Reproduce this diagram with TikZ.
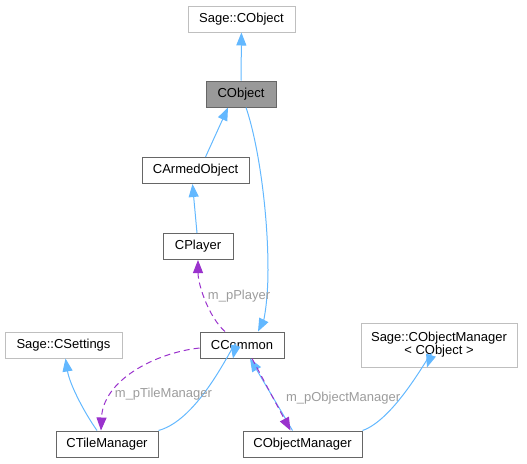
\documentclass[tikz,border=0pt]{standalone}
\usepackage{fontspec}
\setmainfont{Liberation Sans}
\usepackage{xcolor}
\usetikzlibrary{arrows.meta,positioning,calc}

\definecolor{inherit}{HTML}{63B8FF}
\definecolor{usage}{HTML}{9A32CD}
\definecolor{edgelabel}{HTML}{9C9C9C}

\begin{document}
\begin{tikzpicture}[
    x=1pt, y=-1pt,
    cls/.style={draw=black!60, line width=1pt, rectangle, minimum height=26pt,
        inner xsep=6pt, font=\fontsize{13}{15}\selectfont},
    ext/.style={cls, draw=black!25},
    self/.style={cls, fill=black!40},
    isa/.style={draw=inherit, line width=1pt, -{Triangle[length=13pt,width=10pt]}},
    uses/.style={draw=usage, line width=1pt, dash pattern=on 6pt off 4pt,
        -{Triangle[length=13pt,width=10pt]}},
    lbl/.style={text=edgelabel, font=\fontsize{13}{15}\selectfont}
]
    \useasboundingbox (0,0) rectangle (527,463);

    % classes
    \node[ext, minimum width=107pt] (sageobj) at (241.5,19) {Sage::CObject};
    \node[self, minimum width=70pt] (cobj) at (241,94) {CObject};
    \node[cls, minimum width=107pt] (armed) at (195.5,170.5) {CArmedObject};
    \node[cls, minimum width=70pt] (player) at (198,246.5) {CPlayer};
    \node[cls, minimum width=84pt] (common) at (242,345) {CCommon};
    \node[ext, minimum width=117pt] (settings) at (63.5,345) {Sage::CSettings};
    \node[ext, minimum width=156pt, minimum height=44pt, align=center] (sagemgr) at (439,345)
        {Sage::CObjectManager\\[-2pt]< CObject >};
    \node[cls, minimum width=102pt] (tilemgr) at (107,444) {CTileManager};
    \node[cls, minimum width=119pt] (objmgr) at (302.5,444) {CObjectManager};

    % inheritance
    \draw[isa] (cobj) -- (sageobj);
    \draw[isa] ([xshift=10pt]armed.north) -- ([xshift=-13pt]cobj.south);
    \draw[isa] ([xshift=-1pt]player.north) -- ([xshift=-3pt]armed.south);
    \draw[isa] ([xshift=5pt]cobj.south) .. controls +(12,35) and +(0,-60) .. (268,270)
        .. controls +(0,30) and +(6,-12) .. ([xshift=16pt]common.north);
    \draw[isa] ([xshift=-10pt]tilemgr.north) .. controls +(-14,-20) and +(4,25) .. ([xshift=2pt]settings.south);
    \draw[isa] (tilemgr.north east) .. controls +(45,-12) and +(6,-30) .. ([xshift=-9pt]common.south);
    \draw[isa] ([xshift=-10pt]objmgr.north) -- ([xshift=8pt]common.south);
    \draw[isa] (objmgr.north east) .. controls +(35,-12) and +(8,-25) .. ([xshift=-12pt]sagemgr.south);

    % members
    \draw[uses] ([xshift=-17pt]common.north) .. controls +(-16,-14) and +(0,25) .. (player.south)
        node[lbl, pos=0.55, right=0pt] {m\_pPlayer};
    \draw[uses] ([yshift=-3pt]common.west) .. controls +(-45,5) and +(2,-50) .. ([xshift=-6pt]tilemgr.north)
        node[lbl, pos=0.72, right=-2pt] {m\_pTileManager};
    \draw[uses] ([xshift=10pt]common.south) -- ([xshift=-12pt]objmgr.north)
        node[lbl, pos=0.55, right=9pt] {m\_pObjectManager};
\end{tikzpicture}
\end{document}
